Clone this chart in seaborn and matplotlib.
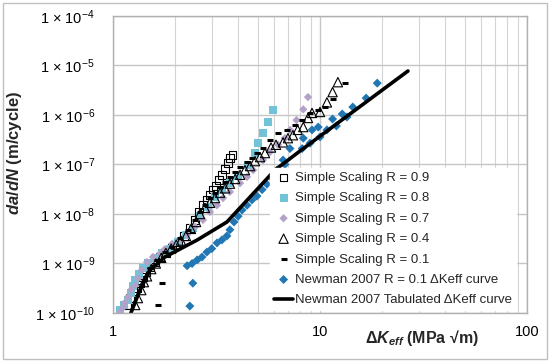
import seaborn as sns
import matplotlib.pyplot as plt
from matplotlib.ticker import LogLocator, NullLocator, FixedLocator, FixedFormatter
from matplotlib.patches import Rectangle

# Simple scaling R = 0.9 (open squares)
dk_r09 = [1.17, 1.21, 1.25, 1.31, 1.35, 1.40, 1.44, 1.51, 1.60, 1.69, 1.80, 1.93, 2.06, 2.20,
          2.35, 2.49, 2.60, 2.72, 2.84, 2.94, 3.04, 3.14, 3.25, 3.36, 3.48, 3.60, 3.67, 3.78]
dadn_r09 = [1.45e-10, 2.0e-10, 2.7e-10, 3.2e-10, 4.0e-10, 5.3e-10, 6.7e-10, 8.4e-10, 1.06e-9,
            1.35e-9, 1.7e-9, 2.1e-9, 2.7e-9, 3.6e-9, 5.2e-9, 7.6e-9, 1.1e-8, 1.5e-8, 1.9e-8,
            2.4e-8, 3.1e-8, 3.7e-8, 4.9e-8, 6.2e-8, 8.1e-8, 1.07e-7, 1.35e-7, 1.56e-7]

# Simple scaling R = 0.8 (filled light blue squares)
dk_r08 = [1.08, 1.13, 1.18, 1.22, 1.25, 1.28, 1.34, 1.40, 1.48, 1.60, 1.72, 1.89, 2.06, 2.25,
          2.43, 2.63, 2.88, 3.11, 3.36, 3.67, 4.02, 4.49, 4.85, 5.02, 5.30, 5.60, 5.93]
dadn_r08 = [1.15e-10, 1.45e-10, 1.83e-10, 2.5e-10, 3.5e-10, 4.6e-10, 6.1e-10, 8.1e-10, 1.0e-9,
            1.3e-9, 1.6e-9, 2.0e-9, 2.7e-9, 3.8e-9, 5.2e-9, 9.0e-9, 1.4e-8, 2.2e-8, 3.1e-8,
            4.3e-8, 5.9e-8, 9.8e-8, 1.7e-7, 2.7e-7, 4.3e-7, 7.2e-7, 1.26e-6]

# Simple scaling R = 0.7 (lavender diamonds)
dk_r07 = [1.08, 1.12, 1.14, 1.18, 1.22, 1.28, 1.32, 1.38, 1.46, 1.56, 1.69, 1.78, 1.93, 2.11,
          2.28, 2.49, 2.72, 2.94, 3.18, 3.40, 3.67, 4.11, 4.44, 4.75, 5.30, 5.73, 6.27, 6.77,
          7.16, 7.70, 8.30, 8.75]
dadn_r07 = [1.03e-10, 1.3e-10, 1.6e-10, 2.1e-10, 2.9e-10, 3.6e-10, 5.0e-10, 7.4e-10, 1.07e-9,
            1.35e-9, 1.6e-9, 1.95e-9, 2.5e-9, 3.0e-9, 3.8e-9, 5.5e-9, 7.6e-9, 1.1e-8, 1.5e-8,
            2.1e-8, 2.8e-8, 4.2e-8, 5.6e-8, 7.7e-8, 1.23e-7, 1.78e-7, 2.5e-7, 3.4e-7, 5.0e-7,
            7.9e-7, 1.3e-6, 2.3e-6]

# Simple scaling R = 0.4 (open triangles)
dk_r04 = [1.28, 1.32, 1.37, 1.41, 1.46, 1.53, 1.61, 1.71, 1.80, 1.91, 2.02, 2.13, 2.25, 2.38,
          2.52, 2.63, 2.78, 2.94, 3.11, 3.29, 3.48, 3.67, 3.89, 4.11, 4.34, 4.59, 4.85, 5.13,
          5.42, 5.80, 6.13, 6.63, 7.0, 7.4, 7.8, 8.3, 8.75, 9.15, 10.0, 10.8, 11.5, 12.2]
dadn_r04 = [1.45e-10, 2.0e-10, 2.9e-10, 4.2e-10, 5.5e-10, 7.7e-10, 1.0e-9, 1.3e-9, 1.64e-9,
            2.0e-9, 2.4e-9, 2.9e-9, 3.6e-9, 5.0e-9, 6.9e-9, 1.0e-8, 1.33e-8, 1.68e-8, 2.1e-8,
            2.7e-8, 3.3e-8, 4.1e-8, 5.1e-8, 6.2e-8, 7.7e-8, 9.3e-8, 1.17e-7, 1.41e-7, 1.7e-7,
            2.2e-7, 2.5e-7, 2.8e-7, 3.4e-7, 3.9e-7, 5.0e-7, 5.7e-7, 8.7e-7, 1.1e-6, 1.15e-6,
            1.8e-6, 2.9e-6, 4.6e-6]

# Simple scaling R = 0.1 (black dashes)
dk_r01 = [1.65, 1.72, 1.51, 1.63, 1.78, 1.93, 2.11, 2.30, 2.49, 2.63, 2.78, 2.94, 3.11, 3.29,
          3.48, 3.67, 3.89, 4.11, 4.44, 4.69, 4.96, 5.3, 5.73, 6.27, 6.9, 7.57, 8.2, 8.95, 9.8,
          10.6, 11.5, 13.2]
dadn_r01 = [1.45e-10, 4.0e-10, 8.1e-10, 1.18e-9, 1.7e-9, 2.2e-9, 3.3e-9, 4.8e-9, 7.6e-9,
            1.1e-8, 1.5e-8, 2.1e-8, 2.7e-8, 3.5e-8, 4.4e-8, 5.6e-8, 7.0e-8, 8.8e-8, 1.11e-7,
            1.35e-7, 1.7e-7, 2.2e-7, 3.1e-7, 4.3e-7, 5.0e-7, 6.3e-7, 7.9e-7, 1.1e-6, 1.26e-6,
            1.45e-6, 2.1e-6, 4.4e-6]

# Newman 2007 R = 0.1 dKeff curve (blue diamonds)
dk_newman = [2.35, 2.43, 2.28, 2.41, 2.55, 2.69, 2.84, 3.0, 3.18, 3.36, 3.55, 3.67, 3.84, 4.02,
             4.2, 4.44, 4.69, 4.96, 5.25, 5.54, 5.86, 6.2, 6.63, 7.16, 8.3, 9.15, 9.8, 11.5,
             12.8, 14.4, 16.7, 18.9, 6.77, 8.2, 8.95, 10.0, 10.8, 12.0, 13.5]
dadn_newman = [1.38e-10, 4.0e-10, 9.0e-10, 1.0e-9, 1.18e-9, 1.35e-9, 1.7e-9, 2.0e-9, 2.6e-9,
               3.0e-9, 3.6e-9, 4.8e-9, 6.9e-9, 9.0e-9, 1.2e-8, 1.5e-8, 1.92e-8, 2.3e-8, 3.1e-8,
               4.0e-8, 5.3e-8, 7.7e-8, 1.23e-7, 2.1e-7, 3.4e-7, 5.0e-7, 5.7e-7, 8.3e-7, 1.05e-6,
               1.45e-6, 2.2e-6, 4.4e-6, 1.0e-7, 2.1e-7, 2.7e-7, 3.6e-7, 5.0e-7, 6.0e-7, 9.1e-7]

# Newman 2007 tabulated dKeff curve (line)
dk_tab = [1.22, 1.35, 1.51, 1.78, 2.55, 3.55, 4.59, 6.06, 8.0, 13.96, 26.6]
dadn_tab = [1.0e-10, 2.92e-10, 7.39e-10, 1.35e-9, 2.98e-9, 6.89e-9, 2.2e-8, 7.74e-8, 1.87e-7,
            1.05e-6, 7.74e-6]

y_ticks = [1e-4, 1e-5, 1e-6, 1e-7, 1e-8, 1e-9, 1e-10]
y_tick_labels = [r"1 × 10$^{\mathregular{-%d}}$" % n for n in range(4, 11)]


sns.set_style("whitegrid")
plt.rcParams['font.family'] = ['Liberation Sans', 'DejaVu Sans']
plt.rcParams['mathtext.fontset'] = 'custom'
plt.rcParams['mathtext.rm'] = 'Liberation Sans:bold'
plt.rcParams['mathtext.bf'] = 'Liberation Sans:bold'
plt.rcParams['mathtext.it'] = 'Liberation Sans:italic:bold'

fig = plt.figure(figsize=(5.5, 3.62), dpi=100)
ax = fig.add_axes([0.2055, 0.1354, 0.7527, 0.8204])

sns.scatterplot(x=dk_r09, y=dadn_r09, marker="s", s=30, facecolor="none",
                edgecolor="black", linewidth=0.8, label="Simple Scaling R = 0.9", ax=ax)
sns.scatterplot(x=dk_r08, y=dadn_r08, marker="s", s=34, color="#72C3D8",
                edgecolor="none", label="Simple Scaling R = 0.8", ax=ax)
sns.scatterplot(x=dk_r07, y=dadn_r07, marker="D", s=18, color="#B3A2C8",
                edgecolor="none", label="Simple Scaling R = 0.7", ax=ax)
sns.scatterplot(x=dk_r04, y=dadn_r04, marker="^", s=45, facecolor="none",
                edgecolor="black", linewidth=0.8, label="Simple Scaling R = 0.4", ax=ax)
sns.scatterplot(x=dk_r01, y=dadn_r01, marker="_", s=25, color="black",
                linewidth=2.2, label="Simple Scaling R = 0.1", ax=ax)
sns.scatterplot(x=dk_newman, y=dadn_newman, marker="D", s=21, color="#2077B4",
                edgecolor="none", label="Newman 2007 R = 0.1 ΔKeff curve", ax=ax)
sns.lineplot(x=dk_tab, y=dadn_tab, color="black", linewidth=2.6,
             label="Newman 2007 Tabulated ΔKeff curve", ax=ax)

ax.set_xscale("log")
ax.set_yscale("log")
ax.set_xlim(1, 100)
ax.set_ylim(1e-10, 1e-4)

ax.xaxis.set_major_locator(FixedLocator([1, 10, 100]))
ax.xaxis.set_major_formatter(FixedFormatter(["1", "10", "100"]))
ax.xaxis.set_minor_locator(LogLocator(base=10, subs=range(2, 10)))
ax.yaxis.set_major_locator(FixedLocator(y_ticks))
ax.yaxis.set_major_formatter(FixedFormatter(y_tick_labels))
ax.yaxis.set_minor_locator(NullLocator())

ax.grid(which="major", color="#C6C6C6", linewidth=1.0)
ax.grid(which="minor", axis="x", color="#D4D4D4", linewidth=0.8)
ax.tick_params(axis="both", which="both", length=0, labelsize=10.5, colors="black")
ax.tick_params(axis="y", pad=13)
ax.tick_params(axis="x", pad=9)
for sp in ax.spines.values():
    sp.set_color("#B0B0B0")
    sp.set_linewidth(1.0)

ax.set_ylabel(r"$da/dN$ (m/cycle)", fontsize=12, fontweight="bold")
ax.yaxis.set_label_coords(-0.215, 0.54)
ax.set_xlabel(r"$\Delta K_{eff}$ (MPa √m)", fontsize=11.5, fontweight="bold")
ax.xaxis.set_label_coords(0.745, -0.05)

leg = ax.legend(loc="lower right", bbox_to_anchor=(0.98, 0.0), fontsize=9.5,
                frameon=True, facecolor="white", edgecolor="white", framealpha=1,
                handlelength=1.45, handletextpad=0.15, labelspacing=0.62,
                borderpad=0.3, borderaxespad=0.2)

fig.patches.append(Rectangle((0.005, 0.008), 0.989, 0.984, transform=fig.transFigure,
                             fill=False, edgecolor="#BFBFBF", linewidth=1.0))

fig.savefig("out.png", dpi=100)
